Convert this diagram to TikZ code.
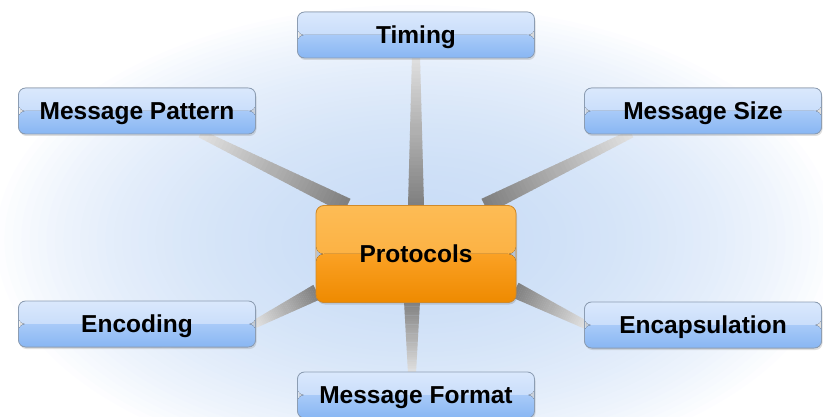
\documentclass[tikz,border=0pt]{standalone}
\usepackage{fontspec}
\setmainfont{Liberation Sans}
\usetikzlibrary{shadows,backgrounds,calc}
\definecolor{bluetop}{HTML}{DAE8FC}
\definecolor{bluemidA}{HTML}{B9D4FA}
\definecolor{bluemidB}{HTML}{A8CAF8}
\definecolor{bluebot}{HTML}{88B6F3}
\definecolor{blueedge}{HTML}{8C9DB3}
\definecolor{ortop}{HTML}{FDBC55}
\definecolor{ormidA}{HTML}{FBA833}
\definecolor{ormidB}{HTML}{FBA124}
\definecolor{orbot}{HTML}{EE8A00}
\definecolor{oredge}{HTML}{D08A2A}
\definecolor{glowc}{HTML}{BCD4F4}
\newcommand\myspoke[2]{%
  \coordinate (N) at ($(#1)!1pt!90:(#2)$);
  \foreach \k in {0,...,39}{%
    \pgfmathsetmacro\ta{\k/40}%
    \pgfmathsetmacro\tb{(\k+1.15)/40}%
    \pgfmathsetmacro\wa{8-4*\ta}%
    \pgfmathsetmacro\wb{8-4*\tb}%
    \pgfmathtruncatemacro\ca{50-38*\ta}%
    \fill[black!\ca] ($(#1)!\ta!(#2) + \wa*(N) - \wa*(#1)$) -- ($(#1)!\tb!(#2) + \wb*(N) - \wb*(#1)$) -- ($(#1)!\tb!(#2) - \wb*(N) + \wb*(#1)$) -- ($(#1)!\ta!(#2) - \wa*(N) + \wa*(#1)$) -- cycle;
  }}
\tikzset{
  box/.style={rounded corners=7pt, minimum width=237pt, minimum height=46pt, inner sep=0pt,
    text depth=0pt,
    draw=blueedge, line width=0.8pt, font=\fontsize{24.5}{27}\selectfont\bfseries,
    drop shadow={opacity=0.25, shadow xshift=1pt, shadow yshift=-2pt},
    path picture={
      \fill[top color=bluetop, bottom color=bluemidA] (path picture bounding box.north west) rectangle (path picture bounding box.east);
      \fill[top color=bluemidB, bottom color=bluebot] (path picture bounding box.west) rectangle (path picture bounding box.south east);
    }},
  hubbox/.style={rounded corners=8pt, minimum width=200pt, minimum height=97pt, inner sep=0pt,
    text depth=0pt,
    draw=oredge, line width=0.8pt, font=\fontsize{24.5}{27}\selectfont\bfseries,
    drop shadow={opacity=0.3, shadow xshift=1pt, shadow yshift=-2pt},
    path picture={
      \fill[top color=ortop, bottom color=ormidA] (path picture bounding box.north west) rectangle (path picture bounding box.east);
      \fill[top color=ormidB, bottom color=orbot] (path picture bounding box.west) rectangle (path picture bounding box.south east);
    }}
}
\begin{document}
\begin{tikzpicture}[x=1pt,y=-1pt]
\useasboundingbox (0,0) rectangle (823,417);
\node[hubbox] (pc) at (416,254) {Protocols};
\node[box] (tm) at (416,35) {Timing};
\node[box] (mp) at (137,111) {Message Pattern};
\node[box] (ms) at (703,111) {Message Size};
\node[box] (en) at (137,324) {Encoding};
\node[box] (ec) at (703,325) {Encapsulation};
\node[box] (mf) at (416,395) {Message Format};
\coordinate (tmA) at (416,206);
\coordinate (tmB) at (416,56);
\coordinate (mpA) at (347,206);
\coordinate (mpB) at (201,134);
\coordinate (msA) at (485,206);
\coordinate (msB) at (631,134);
\coordinate (enA) at (317,292);
\coordinate (enB) at (255,324);
\coordinate (ecA) at (515,290);
\coordinate (ecB) at (586,325);
\coordinate (mfA) at (412,301);
\coordinate (mfB) at (412,373);
\begin{pgfonlayer}{background}
\foreach \i in {0,...,49}{
  \fill[glowc, opacity=0.036] (416,240) ellipse [x radius={420*(1-\i/50)}, y radius={235*(1-\i/50)}];
}
\myspoke{tmA}{tmB}
\myspoke{mpA}{mpB}
\myspoke{msA}{msB}
\myspoke{enA}{enB}
\myspoke{ecA}{ecB}
\myspoke{mfA}{mfB}
\end{pgfonlayer}
\end{tikzpicture}
\end{document}
